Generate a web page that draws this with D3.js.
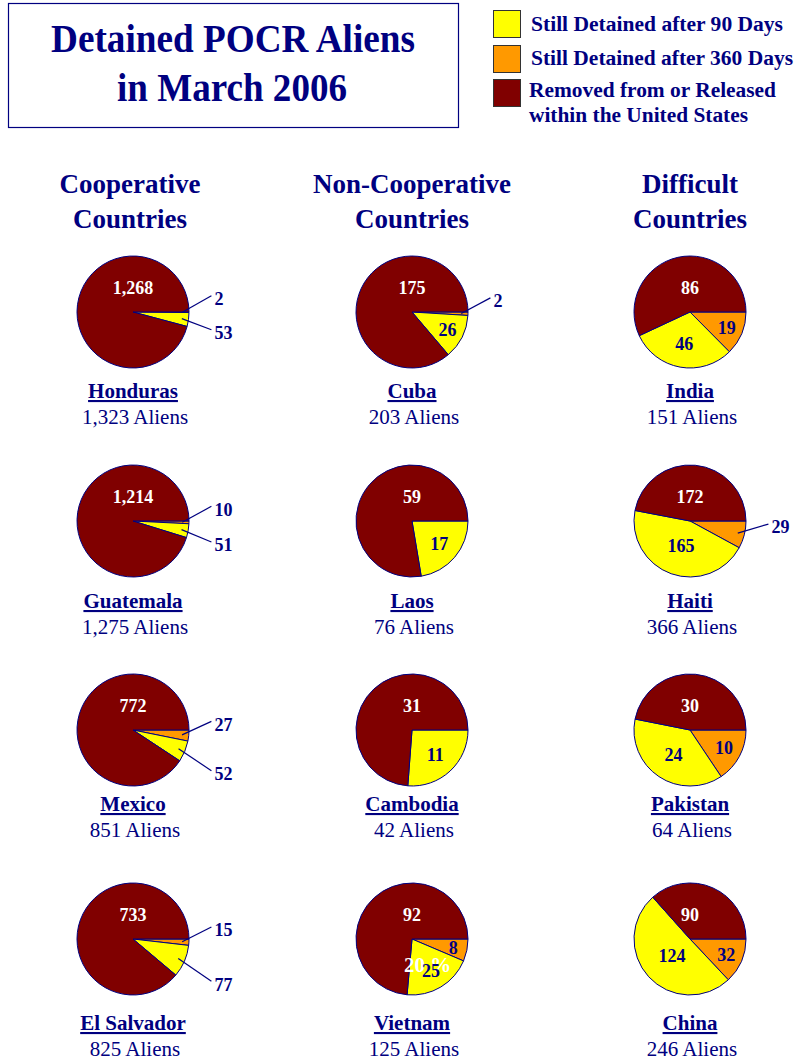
<!DOCTYPE html>
<html>
<head>
<meta charset="utf-8">
<script src="https://cdnjs.cloudflare.com/ajax/libs/d3/7.8.5/d3.min.js"></script>
<style>
  body { margin: 0; background: #fff; }
  text { font-family: "Times New Roman", "Liberation Serif", serif; }
</style>
</head>
<body>
<svg width="800" height="1062"></svg>
<script>
// data
var groupLines = [["Cooperative", "Countries"], ["Non-Cooperative", "Countries"], ["Difficult", "Countries"]];
var countries = ["Honduras", "Guatemala", "Mexico", "El Salvador",
                 "Cuba", "Laos", "Cambodia", "Vietnam",
                 "India", "Haiti", "Pakistan", "China"];
var groupOf  = [0, 0, 0, 0, 1, 1, 1, 1, 2, 2, 2, 2];
var after360 = [2, 10, 27, 15, 2, 0, 0, 8, 19, 29, 10, 32];
var after90  = [53, 51, 52, 77, 26, 17, 11, 25, 46, 165, 24, 124];
var removed  = [1268, 1214, 772, 733, 175, 59, 31, 92, 86, 172, 30, 90];
var totals   = [1323, 1275, 851, 825, 203, 76, 42, 125, 151, 366, 64, 246];
var legendLabels = [["Still Detained after 90 Days"], ["Still Detained after 360 Days"],
                    ["Removed from or Released", "within the United States"]];
// stray percentage label that shows in the original
var percentShown = ["Vietnam"];

var navy = "#000080";
var colors = {o: "#FF9900", y: "#FFFF00", m: "#800000"};

var svg = d3.select('svg');

// title box
svg.append('rect')
    .attr('x', 8.5).attr('y', 3.5)
    .attr('width', 450).attr('height', 124)
    .attr('fill', 'none').attr('stroke', navy).attr('stroke-width', 1.2);

svg.append('text').attr('x', 233).attr('y', 52)
    .attr('text-anchor', 'middle').attr('font-size', 39).attr('font-weight', 'bold')
    .attr('fill', navy).attr('textLength', 364).attr('lengthAdjust', 'spacingAndGlyphs')
    .text('Detained POCR Aliens');
svg.append('text').attr('x', 232).attr('y', 101)
    .attr('text-anchor', 'middle').attr('font-size', 39).attr('font-weight', 'bold')
    .attr('fill', navy).attr('textLength', 230).attr('lengthAdjust', 'spacingAndGlyphs')
    .text('in March 2006');

// legend
var legendColors = [colors.y, colors.o, colors.m];
var legendWidths = [[252], [262], [247, 219]];
var legendBase = [31, 65, 97];
legendLabels.forEach(function (lines, i) {
    svg.append('rect')
        .attr('x', 493.5).attr('y', [10.5, 45.5, 79.5][i])
        .attr('width', 27).attr('height', 27)
        .attr('fill', legendColors[i]).attr('stroke', '#333').attr('stroke-width', 1);
    lines.forEach(function (t, j) {
        svg.append('text')
            .attr('x', i == 2 ? 529 : 531).attr('y', legendBase[i] + j * 25)
            .attr('font-size', 20).attr('font-weight', 'bold').attr('fill', navy)
            .attr('textLength', legendWidths[i][j]).attr('lengthAdjust', 'spacingAndGlyphs')
            .text(t);
    });
});

// layout
var colX = [133, 412, 690];
var headX = [130, 412, 690];
var rowY = [312, 521, 730, 939];
var nameY = [398, 608, 811, 1030];
var R = 56;

groupLines.forEach(function (lines, g) {
    lines.forEach(function (t, j) {
        svg.append('text')
            .attr('x', headX[g]).attr('y', 193 + j * 35)
            .attr('text-anchor', 'middle').attr('font-size', 27).attr('font-weight', 'bold')
            .attr('fill', navy).text(t);
    });
});

var pie = d3.pie()
    .sort(null)
    .value(function (d) { return d.v; })
    .startAngle(Math.PI / 2)
    .endAngle(Math.PI / 2 + 2 * Math.PI);

var arc = d3.arc().innerRadius(0).outerRadius(R);
var fmt = d3.format(',');
var deg = 180 / Math.PI;

countries.forEach(function (name, i) {
    var g = groupOf[i];
    var row = i % 4;
    var cx = colX[g], cy = rowY[row];
    var slices = [
        {k: 'o', v: after360[i]},
        {k: 'y', v: after90[i]},
        {k: 'm', v: removed[i]}
    ];
    var arcs = pie(slices);
    var chart = svg.append('g').attr('transform', 'translate(' + cx + ',' + cy + ')');

    chart.selectAll('path')
        .data(arcs)
        .enter()
        .append('path')
        .attr('d', arc)
        .attr('fill', function (d) { return colors[d.data.k]; })
        .attr('stroke', navy)
        .attr('stroke-width', 1)
        .attr('stroke-linejoin', 'round');

    if (percentShown.indexOf(name) >= 0) {
        var ya = arcs[1];
        var pc = d3.arc().innerRadius(0).outerRadius(R * 1.08).centroid(ya);
        chart.append('text')
            .attr('x', pc[0]).attr('y', pc[1]).attr('dy', '0.35em')
            .attr('text-anchor', 'middle')
            .attr('font-family', 'Arial, "Liberation Sans", sans-serif')
            .attr('font-size', 21).attr('font-weight', 'bold')
            .attr('fill', '#fff').text(d3.format('.0%')(ya.data.v / totals[i]).replace('%', ' %'));
    }

    arcs.forEach(function (d) {
        if (d.data.v == 0) return;
        var span = (d.endAngle - d.startAngle) * deg;
        var label = fmt(d.data.v);
        var digits = String(d.data.v).length;
        if (d.data.k == 'm') {
            var top = d3.arc().innerRadius(R * 0.43).outerRadius(R * 0.43)
                .centroid({startAngle: 0, endAngle: 0});
            chart.append('text')
                .attr('x', top[0]).attr('y', top[1]).attr('dy', '0.35em')
                .attr('text-anchor', 'middle').attr('font-size', 18).attr('font-weight', 'bold')
                .attr('fill', '#fff').text(label);
        } else if (span < 20 * digits) {
            // too thin: label outside with a leader line
            var s = d3.arc().innerRadius(R * 0.88).outerRadius(R * 0.88).centroid(d);
            var mid = (d.startAngle + d.endAngle) / 2 - Math.PI / 2;
            var tilt = d.data.k == 'o' ? -12 : 5;
            var ex = R * 1.4;
            var ey = ex * Math.tan(mid + tilt / deg);
            chart.append('line')
                .attr('x1', s[0]).attr('y1', s[1])
                .attr('x2', ex).attr('y2', ey)
                .attr('stroke', navy).attr('stroke-width', 1.2);
            chart.append('text')
                .attr('x', ex + 3).attr('y', ey + 3).attr('dy', '0.35em')
                .attr('font-size', 18).attr('font-weight', 'bold')
                .attr('fill', navy).text(label);
        } else {
            var rr = R * (0.8 - 0.002 * span);
            var c = d3.arc().innerRadius(rr).outerRadius(rr).centroid(d);
            chart.append('text')
                .attr('x', c[0]).attr('y', c[1]).attr('dy', '0.35em')
                .attr('text-anchor', 'middle').attr('font-size', 18).attr('font-weight', 'bold')
                .attr('fill', navy).text(label);
        }
    });

    svg.append('text')
        .attr('x', cx).attr('y', nameY[row])
        .attr('text-anchor', 'middle').attr('font-size', 21).attr('font-weight', 'bold')
        .attr('text-decoration', 'underline')
        .attr('fill', navy).text(name);
    svg.append('text')
        .attr('x', cx + 2).attr('y', nameY[row] + 26)
        .attr('text-anchor', 'middle').attr('font-size', 21)
        .attr('fill', navy).text(fmt(totals[i]) + ' Aliens');
});
</script>
</body>
</html>
